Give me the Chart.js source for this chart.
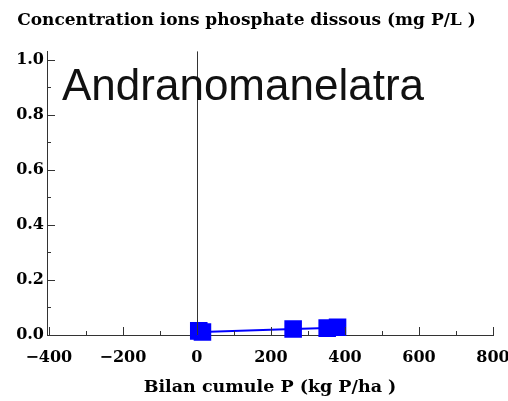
<!DOCTYPE html>
<html>
<head>
<meta charset="utf-8">
<script src="https://cdn.jsdelivr.net/npm/chart.js@4.4.1/dist/chart.umd.min.js"></script>
<style>
  html, body { margin: 0; padding: 0; background: #fff; }
  #wrap { width: 508px; height: 401px; }
</style>
</head>
<body>
<div id="wrap"><canvas id="plot" width="508" height="401"></canvas></div>
<script>
// Data
const bilanP = [5, 15, 260, 352, 380];
const concP = [0.015, 0.011, 0.022, 0.025, 0.028];
const xTicks = [-400, -200, 0, 200, 400, 600, 800];
const yTicks = [0.0, 0.2, 0.4, 0.6, 0.8, 1.0];
const siteName = 'Andranomanelatra';

const serif = '"DejaVu Serif", "Liberation Serif", serif';

// Mathematica style ticks (inside), origin line and site label
const axesStyle = {
    id: 'axesStyle',
    afterDraw(chart) {
        const c = chart.ctx;
        const xs = chart.scales.x, ys = chart.scales.y;
        const area = chart.chartArea;
        c.save();
        c.strokeStyle = '#333';
        c.lineWidth = 1;
        // vertical line at x = 0
        const x0 = Math.round(xs.getPixelForValue(0)) + 0.5;
        c.beginPath();
        c.moveTo(x0, area.top);
        c.lineTo(x0, area.bottom);
        c.stroke();
        // x ticks
        for (let v = -400; v <= 800; v += 100) {
            const px = Math.round(xs.getPixelForValue(v)) + 0.5;
            const len = v % 200 === 0 ? 8 : 4;
            c.beginPath();
            c.moveTo(px, area.bottom);
            c.lineTo(px, area.bottom - len);
            c.stroke();
        }
        // y ticks
        for (let i = 0; i <= 10; i++) {
            const py = Math.round(ys.getPixelForValue(i / 10)) + 0.5;
            const len = i % 2 === 0 ? 8 : 4;
            c.beginPath();
            c.moveTo(area.left, py);
            c.lineTo(area.left + len, py);
            c.stroke();
        }
        // site name
        c.fillStyle = '#111';
        c.font = '44px "Liberation Sans", Arial, sans-serif';
        c.textBaseline = 'alphabetic';
        c.fillText(siteName, 62, 100);
        c.restore();
    }
};

new Chart(document.getElementById('plot'), {
    type: 'scatter',
    data: {
        datasets: [{
            data: bilanP.map((x, i) => ({ x: x, y: concP[i] })),
            showLine: true,
            clip: false,
            borderColor: '#0000ff',
            backgroundColor: '#0000ff',
            borderWidth: 2,
            pointStyle: 'rect',
            pointRadius: 11,
            pointHoverRadius: 11
        }]
    },
    options: {
        responsive: false,
        animation: false,
        layout: { padding: { left: 0, right: 15, top: 0, bottom: 0 } },
        plugins: {
            legend: { display: false },
            tooltip: { enabled: false },
            title: {
                display: true,
                text: 'Concentration ions phosphate dissous (mg P/L )',
                color: '#000',
                font: { family: serif, size: 17, weight: 'bold' },
                padding: { top: 10, bottom: 21 }
            }
        },
        scales: {
            x: {
                type: 'linear',
                min: -405,
                max: 800,
                afterBuildTicks(scale) {
                    scale.ticks = xTicks.map(v => ({ value: v }));
                },
                afterFit(scale) {
                    scale.height = 66;
                    scale.paddingLeft = 0;
                    scale.paddingRight = 0;
                },
                grid: { display: false, drawTicks: false },
                border: { display: true, color: '#333', width: 1 },
                ticks: {
                    color: '#000',
                    padding: 13,
                    maxRotation: 0,
                    font: { family: serif, size: 16, weight: 'bold' },
                    callback: v => (v < 0 ? '\u2212' + Math.abs(v) : String(v))
                },
                title: {
                    display: true,
                    text: 'Bilan cumule P (kg P/ha )',
                    color: '#000',
                    font: { family: serif, size: 17.5, weight: 'bold' },
                    padding: { top: 4, bottom: 3 }
                }
            },
            y: {
                type: 'linear',
                min: 0,
                max: 1.03,
                afterBuildTicks(scale) {
                    scale.ticks = yTicks.map(v => ({ value: v }));
                },
                afterFit(scale) {
                    scale.width = 47;
                    scale.paddingTop = 0;
                    scale.paddingBottom = 0;
                },
                grid: { display: false, drawTicks: false },
                border: { display: true, color: '#333', width: 1 },
                ticks: {
                    color: '#000',
                    padding: 3,
                    font: { family: serif, size: 16, weight: 'bold' },
                    callback: v => v.toFixed(1)
                }
            }
        }
    },
    plugins: [axesStyle]
});
</script>
</body>
</html>
